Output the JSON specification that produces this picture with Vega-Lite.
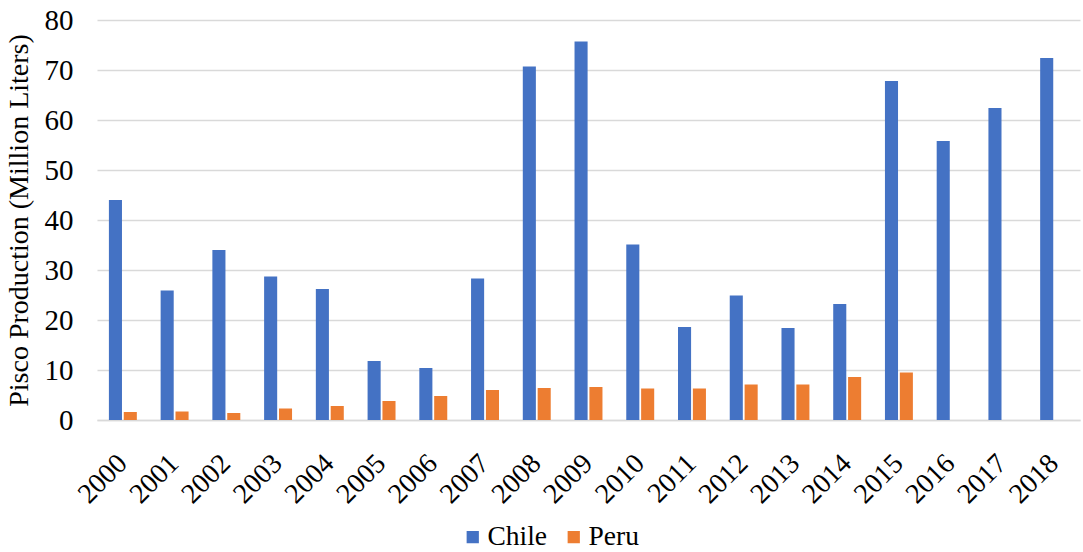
{
  "$schema": "https://vega.github.io/schema/vega-lite/v6.json",
  "width": 983,
  "height": 400,
  "autosize": {"type": "none"},
  "padding": {"left": 97, "top": 20, "right": 3, "bottom": 132},
  "background": "white",
  "config": {
    "font": "Liberation Serif",
    "view": {"stroke": null},
    "axis": {"labelFont": "Liberation Serif", "titleFont": "Liberation Serif"},
    "legend": {"labelFont": "Liberation Serif", "titleFont": "Liberation Serif"}
  },
  "data": {
    "values": [
      {"year": "2000", "country": "Chile", "value": 44.0},
      {"year": "2000", "country": "Peru", "value": 1.6},
      {"year": "2001", "country": "Chile", "value": 25.9},
      {"year": "2001", "country": "Peru", "value": 1.7},
      {"year": "2002", "country": "Chile", "value": 34.0},
      {"year": "2002", "country": "Peru", "value": 1.4},
      {"year": "2003", "country": "Chile", "value": 28.7},
      {"year": "2003", "country": "Peru", "value": 2.3},
      {"year": "2004", "country": "Chile", "value": 26.2},
      {"year": "2004", "country": "Peru", "value": 2.8},
      {"year": "2005", "country": "Chile", "value": 11.8},
      {"year": "2005", "country": "Peru", "value": 3.8},
      {"year": "2006", "country": "Chile", "value": 10.4},
      {"year": "2006", "country": "Peru", "value": 4.8},
      {"year": "2007", "country": "Chile", "value": 28.3},
      {"year": "2007", "country": "Peru", "value": 6.0},
      {"year": "2008", "country": "Chile", "value": 70.7},
      {"year": "2008", "country": "Peru", "value": 6.4},
      {"year": "2009", "country": "Chile", "value": 75.7},
      {"year": "2009", "country": "Peru", "value": 6.6},
      {"year": "2010", "country": "Chile", "value": 35.1},
      {"year": "2010", "country": "Peru", "value": 6.3},
      {"year": "2011", "country": "Chile", "value": 18.6},
      {"year": "2011", "country": "Peru", "value": 6.3},
      {"year": "2012", "country": "Chile", "value": 24.9},
      {"year": "2012", "country": "Peru", "value": 7.1},
      {"year": "2013", "country": "Chile", "value": 18.4},
      {"year": "2013", "country": "Peru", "value": 7.1},
      {"year": "2014", "country": "Chile", "value": 23.2},
      {"year": "2014", "country": "Peru", "value": 8.6},
      {"year": "2015", "country": "Chile", "value": 67.8},
      {"year": "2015", "country": "Peru", "value": 9.5},
      {"year": "2016", "country": "Chile", "value": 55.8},
      {"year": "2017", "country": "Chile", "value": 62.4},
      {"year": "2018", "country": "Chile", "value": 72.4}
    ]
  },
  "mark": {"type": "bar"},
  "encoding": {
    "x": {
      "field": "year",
      "type": "nominal",
      "scale": {"paddingInner": 0.46, "paddingOuter": 0.23},
      "axis": {
        "title": null,
        "labelAngle": -45,
        "labelAlign": "right",
        "labelBaseline": "middle",
        "labelFont": "Liberation Serif",
        "labelFontSize": 28,
        "labelColor": "#000000",
        "labelPadding": 39,
        "ticks": false,
        "domainColor": "#d9d9d9",
        "domainWidth": 1.5
      }
    },
    "xOffset": {
      "field": "country",
      "type": "nominal",
      "scale": {"domain": ["Chile", "Peru"], "paddingInner": 0.12}
    },
    "y": {
      "field": "value",
      "type": "quantitative",
      "scale": {"domain": [0, 80]},
      "axis": {
        "title": "Pisco Production (Million Liters)",
        "titleFont": "Liberation Serif",
        "titleFontSize": 28,
        "titleFontWeight": "normal",
        "titleColor": "#000000",
        "titlePadding": 11,
        "values": [0, 10, 20, 30, 40, 50, 60, 70, 80],
        "labelFont": "Liberation Serif",
        "labelFontSize": 29,
        "labelColor": "#000000",
        "labelPadding": 24,
        "ticks": false,
        "domain": false,
        "gridColor": "#d9d9d9",
        "gridWidth": 1.5
      }
    },
    "color": {
      "field": "country",
      "type": "nominal",
      "scale": {"domain": ["Chile", "Peru"], "range": ["#4472C4", "#ED7D31"]},
      "legend": {
        "title": null,
        "orient": "none",
        "legendX": 362,
        "legendY": 503,
        "direction": "horizontal",
        "symbolType": "square",
        "symbolSize": 150,
        "symbolStrokeWidth": 0,
        "labelFont": "Liberation Serif",
        "labelFontSize": 27.5,
        "labelColor": "#000000",
        "labelOffset": 1,
        "columnPadding": 12
      }
    }
  }
}
